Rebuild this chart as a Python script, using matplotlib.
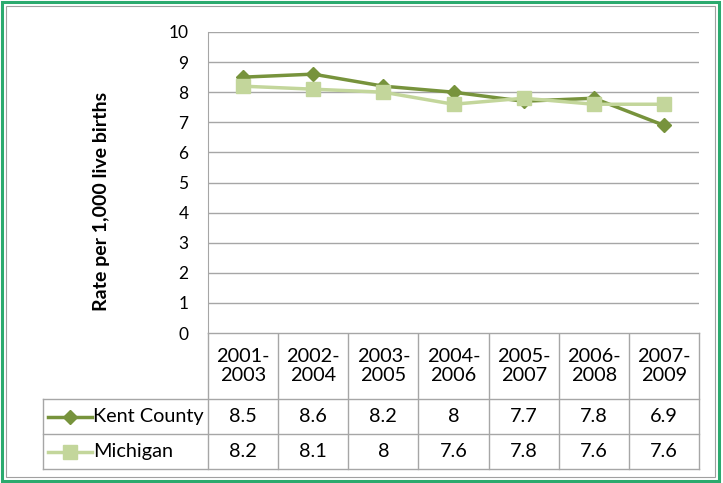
import matplotlib.pyplot as plt
from matplotlib.patches import Rectangle

periods = ['2001-\n2003', '2002-\n2004', '2003-\n2005', '2004-\n2006',
           '2005-\n2007', '2006-\n2008', '2007-\n2009']
kent = [8.5, 8.6, 8.2, 8, 7.7, 7.8, 6.9]
michigan = [8.2, 8.1, 8, 7.6, 7.8, 7.6, 7.6]
kent_labels = ['8.5', '8.6', '8.2', '8', '7.7', '7.8', '6.9']
mich_labels = ['8.2', '8.1', '8', '7.6', '7.8', '7.6', '7.6']

kent_color = '#77933C'
mich_color = '#C3D69B'
grid_color = '#A6A6A6'
plt.rcParams['font.family'] = ['Lato', 'DejaVu Sans']

W, H = 723, 483
fig = plt.figure(figsize=(W / 100, H / 100), dpi=100)

# overlay in pixel coords for frame and table
ov = fig.add_axes([0, 0, 1, 1])
ov.set_xlim(0, W)
ov.set_ylim(H, 0)
ov.axis('off')
ov.add_patch(Rectangle((2, 2), W - 6, H - 4, fill=False, edgecolor='#2BAA6E', lw=2.2))
ov.add_patch(Rectangle((6, 6), W - 14, H - 12, fill=False, edgecolor='#A0A0A0', lw=0.8))

# plot area
pl, pr, pt, pb = 208, 699, 32, 333
ax = fig.add_axes([pl / W, 1 - pb / H, (pr - pl) / W, (pb - pt) / H])
x = list(range(len(periods)))
ax.plot(x, kent, color=kent_color, lw=2.5, marker='D', ms=7.5, label='Kent County')
ax.plot(x, michigan, color=mich_color, lw=2.5, marker='s', ms=10.5, label='Michigan')
ax.set_xlim(-0.5, len(periods) - 0.5)
ax.set_ylim(0, 10)
ax.set_yticks(range(0, 11))
ax.set_xticks([])
ax.yaxis.grid(True, color=grid_color, lw=1)
ax.set_axisbelow(True)
for s in ['top', 'right', 'bottom']:
    ax.spines[s].set_visible(False)
ax.spines['left'].set_color(grid_color)
ax.tick_params(axis='y', length=0, labelsize=12.5, pad=14)
ov.text(102, 201, 'Rate per 1,000 live births', rotation=90, ha='center', va='center',
        fontsize=14, fontweight='bold')

# data table
col_w = (pr - pl) / len(periods)
rows = [333, 399, 434, 469]
left = 43
lc = grid_color
for r in rows[1:]:
    ov.plot([left, pr], [r, r], color=lc, lw=1)
ov.plot([pl, pr], [rows[0], rows[0]], color=lc, lw=1)
ov.plot([left, left], [rows[1], rows[3]], color=lc, lw=1)
for i in range(len(periods) + 1):
    xx = pl + i * col_w
    ov.plot([xx, xx], [rows[0], rows[3]], color=lc, lw=1)
fs = 14.3
for i, p in enumerate(periods):
    cx = pl + (i + 0.5) * col_w
    ov.text(cx, (rows[0] + rows[1]) / 2, p, ha='center', va='center', fontsize=fs, linespacing=1.1)
    ov.text(cx, (rows[1] + rows[2]) / 2, kent_labels[i], ha='center', va='center', fontsize=fs)
    ov.text(cx, (rows[2] + rows[3]) / 2, mich_labels[i], ha='center', va='center', fontsize=fs)

for k, (name, col, mk, ms) in enumerate([('Kent County', kent_color, 'D', 7.5),
                                         ('Michigan', mich_color, 's', 10.5)]):
    yy = (rows[k + 1] + rows[k + 2]) / 2
    ov.plot([48, 92], [yy, yy], color=col, lw=2.5)
    ov.plot([70], [yy], color=col, marker=mk, ms=ms, ls='none')
    ov.text(93, yy, name, ha='left', va='center', fontsize=fs)

fig.savefig('out.png', dpi=100)
